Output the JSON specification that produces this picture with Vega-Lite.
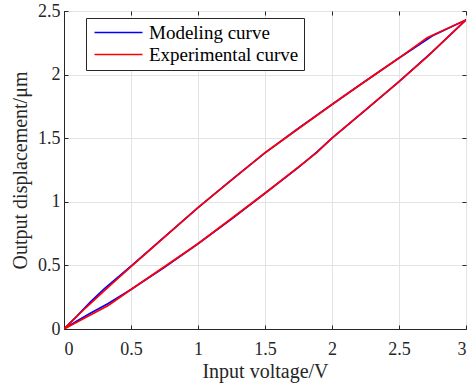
{
  "$schema": "https://vega.github.io/schema/vega-lite/v6.json",
  "autosize": {"type": "none"},
  "padding": {"left": 64, "top": 11, "right": 2, "bottom": 58},
  "width": 402,
  "height": 318,
  "config": {
    "font": "Liberation Serif",
    "view": {"stroke": "#262626", "strokeWidth": 1},
    "axis": {
      "labelFont": "Liberation Serif",
      "titleFont": "Liberation Serif",
      "labelFontSize": 18,
      "titleFontSize": 20,
      "titleFontWeight": "normal",
      "labelColor": "#262626",
      "titleColor": "#262626",
      "domainColor": "#262626",
      "tickColor": "#262626",
      "gridColor": "#e3e3e3",
      "gridWidth": 1,
      "tickSize": -4
    }
  },
  "data": {"values": [
    {"s": "Modeling curve", "i": 0, "v": 0, "d": 0},
    {"s": "Modeling curve", "i": 1, "v": 0.1, "d": 0.065},
    {"s": "Modeling curve", "i": 2, "v": 0.2, "d": 0.125},
    {"s": "Modeling curve", "i": 3, "v": 0.33, "d": 0.2},
    {"s": "Modeling curve", "i": 4, "v": 0.5, "d": 0.31},
    {"s": "Modeling curve", "i": 5, "v": 0.75, "d": 0.485},
    {"s": "Modeling curve", "i": 6, "v": 1.0, "d": 0.67},
    {"s": "Modeling curve", "i": 7, "v": 1.25, "d": 0.865},
    {"s": "Modeling curve", "i": 8, "v": 1.5, "d": 1.067},
    {"s": "Modeling curve", "i": 9, "v": 1.75, "d": 1.27},
    {"s": "Modeling curve", "i": 10, "v": 1.886, "d": 1.39},
    {"s": "Modeling curve", "i": 11, "v": 2.0, "d": 1.5},
    {"s": "Modeling curve", "i": 12, "v": 2.25, "d": 1.72},
    {"s": "Modeling curve", "i": 13, "v": 2.5, "d": 1.944},
    {"s": "Modeling curve", "i": 14, "v": 2.75, "d": 2.18},
    {"s": "Modeling curve", "i": 15, "v": 3.0, "d": 2.43},
    {"s": "Modeling curve", "i": 16, "v": 2.75, "d": 2.305},
    {"s": "Modeling curve", "i": 17, "v": 2.5, "d": 2.13},
    {"s": "Modeling curve", "i": 18, "v": 2.25, "d": 1.95},
    {"s": "Modeling curve", "i": 19, "v": 2.0, "d": 1.765},
    {"s": "Modeling curve", "i": 20, "v": 1.75, "d": 1.578},
    {"s": "Modeling curve", "i": 21, "v": 1.5, "d": 1.385},
    {"s": "Modeling curve", "i": 22, "v": 1.25, "d": 1.172},
    {"s": "Modeling curve", "i": 23, "v": 1.0, "d": 0.955},
    {"s": "Modeling curve", "i": 24, "v": 0.75, "d": 0.725},
    {"s": "Modeling curve", "i": 25, "v": 0.5, "d": 0.495},
    {"s": "Modeling curve", "i": 26, "v": 0.3, "d": 0.315},
    {"s": "Modeling curve", "i": 27, "v": 0.2, "d": 0.215},
    {"s": "Modeling curve", "i": 28, "v": 0.1, "d": 0.105},
    {"s": "Modeling curve", "i": 29, "v": 0, "d": 0},
    {"s": "Experimental curve", "i": 0, "v": 0, "d": 0},
    {"s": "Experimental curve", "i": 1, "v": 0.33, "d": 0.185},
    {"s": "Experimental curve", "i": 2, "v": 0.5, "d": 0.31},
    {"s": "Experimental curve", "i": 3, "v": 1.0, "d": 0.67},
    {"s": "Experimental curve", "i": 4, "v": 1.5, "d": 1.067},
    {"s": "Experimental curve", "i": 5, "v": 1.886, "d": 1.386},
    {"s": "Experimental curve", "i": 6, "v": 2.0, "d": 1.5},
    {"s": "Experimental curve", "i": 7, "v": 2.5, "d": 1.944},
    {"s": "Experimental curve", "i": 8, "v": 2.71, "d": 2.14},
    {"s": "Experimental curve", "i": 9, "v": 3.0, "d": 2.43},
    {"s": "Experimental curve", "i": 10, "v": 2.71, "d": 2.29},
    {"s": "Experimental curve", "i": 11, "v": 2.5, "d": 2.13},
    {"s": "Experimental curve", "i": 12, "v": 2.1, "d": 1.84},
    {"s": "Experimental curve", "i": 13, "v": 2.0, "d": 1.765},
    {"s": "Experimental curve", "i": 14, "v": 1.5, "d": 1.386},
    {"s": "Experimental curve", "i": 15, "v": 1.0, "d": 0.955},
    {"s": "Experimental curve", "i": 16, "v": 0.5, "d": 0.49},
    {"s": "Experimental curve", "i": 17, "v": 0.33, "d": 0.33},
    {"s": "Experimental curve", "i": 18, "v": 0.16, "d": 0.165},
    {"s": "Experimental curve", "i": 19, "v": 0, "d": 0}
  ]},
  "layer": [
    {
      "mark": {"type": "line", "strokeWidth": 1.7, "clip": true},
      "encoding": {
        "x": {"field": "v", "type": "quantitative",
          "scale": {"domain": [0, 3], "nice": false, "zero": false},
          "axis": {"title": "Input voltage/V", "values": [0, 0.5, 1, 1.5, 2, 2.5, 3], "format": ".1~f", "labelPadding": 15, "titlePadding": 3}},
        "y": {"field": "d", "type": "quantitative",
          "scale": {"domain": [0, 2.5], "nice": false},
          "axis": {"title": "Output displacement/μm", "values": [0, 0.5, 1, 1.5, 2, 2.5], "format": ".1~f", "labelPadding": 8, "titlePadding": 7}},
        "color": {"field": "s", "type": "nominal",
          "scale": {"domain": ["Modeling curve", "Experimental curve"], "range": ["#0000ff", "#ff0000"]},
          "legend": {
            "title": null,
            "orient": "none",
            "legendX": 22,
            "legendY": 7,
            "symbolType": "M-1,0H7",
            "symbolSize": 144,
            "symbolStrokeWidth": 1.7,
            "labelFont": "Liberation Serif",
            "labelFontSize": 19,
            "labelColor": "#000000",
            "labelOffset": 39,
            "padding": 5,
            "rowPadding": 2,
            "strokeColor": "#262626",
            "fillColor": "#ffffff"
          }},
        "order": {"field": "i", "type": "quantitative"}
      }
    },
    {
      "mark": {"type": "line", "opacity": 0},
      "encoding": {
        "x": {"field": "v", "type": "quantitative",
          "axis": {"orient": "top", "values": [0, 0.5, 1, 1.5, 2, 2.5, 3], "labels": false, "grid": false, "domain": false, "title": null}},
        "y": {"field": "d", "type": "quantitative",
          "axis": {"orient": "right", "values": [0, 0.5, 1, 1.5, 2, 2.5], "labels": false, "grid": false, "domain": false, "title": null}},
        "detail": {"field": "s"},
        "order": {"field": "i", "type": "quantitative"}
      }
    }
  ],
  "resolve": {"axis": {"x": "independent", "y": "independent"}}
}
